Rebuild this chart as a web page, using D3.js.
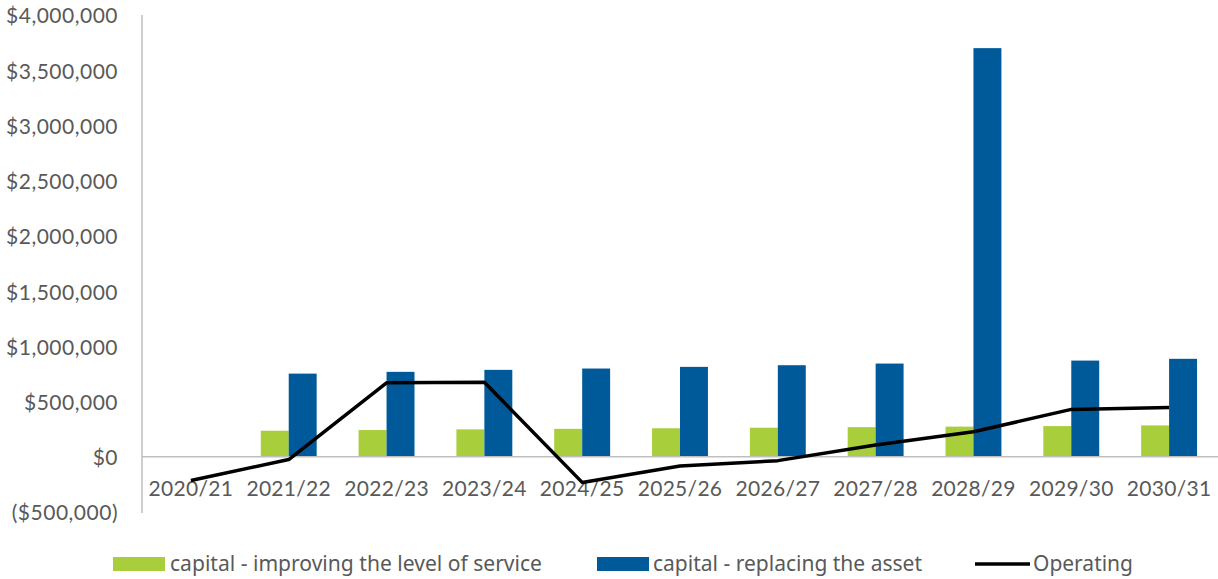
<!DOCTYPE html>
<html>
<head>
<meta charset="utf-8">
<script src="https://cdn.jsdelivr.net/npm/d3@7"></script>
<style>
  html, body { margin: 0; padding: 0; background: #fff; }
  svg { display: block; }
</style>
</head>
<body>
<svg id="chart" width="1218" height="579"></svg>
<script>
// Financial years
const years = ["2020/21", "2021/22", "2022/23", "2023/24", "2024/25", "2025/26",
               "2026/27", "2027/28", "2028/29", "2029/30", "2030/31"];

// Capital spend – improving the level of service
const improving = [0, 236000, 242000, 248000, 253000, 258000, 263000, 268000, 273000, 278000, 284000];

// Capital spend – replacing the asset
const replacing = [0, 753000, 769000, 787000, 799000, 814000, 829000, 844000, 3700000, 871000, 887000];

// Operating cost (line)
const operating = [-215000, -25000, 670000, 674000, -232000, -84000, -35000, 106000, 226000, 429000, 447000];

// Value axis ticks
const yTicks = [-500000, 0, 500000, 1000000, 1500000, 2000000, 2500000, 3000000, 3500000, 4000000];

const seriesNames = ["capital - improving the level of service", "capital - replacing the asset", "Operating"];
const colours = { improving: "#A8CE3B", replacing: "#005A9A", operating: "#000000" };

const svg = d3.select("#chart");
const plot = { left: 142, right: 1218, top: 15, bottom: 512 };

const x = d3.scaleBand().domain(years).range([plot.left, plot.right]).paddingInner(0).paddingOuter(0);
const inner = d3.scaleBand().domain(["improving", "replacing"])
  .range([0, x.bandwidth()]).paddingInner(0).paddingOuter(0.75);
const y = d3.scaleLinear().domain([-500000, 4000000]).range([plot.bottom, plot.top]);

const fmt = v => v < 0 ? "($" + d3.format(",")(-v) + ")" : "$" + d3.format(",")(v);

// Value axis labels
const yAxis = d3.axisLeft(y).tickValues(yTicks).tickFormat(fmt).tickSize(0).tickPadding(0);
const yG = svg.append("g").attr("transform", `translate(118,0)`).call(yAxis);
yG.select(".domain").remove();
yG.selectAll("text")
  .attr("fill", "#595959")
  .style("font-family", "Lato, 'Open Sans', sans-serif")
  .style("font-size", "21px")
  .style("letter-spacing", "0.5px")
  .attr("dy", "0.38em");

// Vertical axis line
svg.append("line")
  .attr("x1", plot.left).attr("x2", plot.left)
  .attr("y1", plot.top).attr("y2", plot.bottom + 1)
  .attr("stroke", "#BFBFBF").attr("stroke-width", 1.5);

// Bars
const barData = years.flatMap((yr, i) => [
  { year: yr, key: "improving", value: improving[i] },
  { year: yr, key: "replacing", value: replacing[i] }
]);
svg.append("g").selectAll("rect").data(barData.filter(d => d.value !== 0)).join("rect")
  .attr("x", d => x(d.year) + inner(d.key))
  .attr("width", inner.bandwidth())
  .attr("y", d => y(Math.max(0, d.value)))
  .attr("height", d => Math.abs(y(d.value) - y(0)))
  .attr("fill", d => colours[d.key]);

// Zero line
svg.append("line")
  .attr("x1", plot.left).attr("x2", plot.right)
  .attr("y1", y(0)).attr("y2", y(0))
  .attr("stroke", "#BFBFBF").attr("stroke-width", 1.5);

// Category labels
const xAxis = d3.axisBottom(x).tickSize(0).tickPadding(0);
const xG = svg.append("g").attr("transform", `translate(0,${y(0)})`).call(xAxis);
xG.select(".domain").remove();
xG.selectAll("text")
  .attr("fill", "#595959")
  .attr("y", 39)
  .attr("dy", 0)
  .style("font-family", "Lato, 'Open Sans', sans-serif")
  .style("font-size", "21px")
  .style("letter-spacing", "0.3px");

// Operating line
const line = d3.line().x((d, i) => x(years[i]) + x.bandwidth() / 2).y(d => y(d));
svg.append("path").datum(operating)
  .attr("d", line)
  .attr("fill", "none")
  .attr("stroke", colours.operating)
  .attr("stroke-width", 3.5)
  .attr("stroke-linejoin", "round");

// Legend
const legend = svg.append("g").style("font-family", "'Noto Sans', sans-serif").style("font-size", "22px");
const legendItems = [
  { name: seriesNames[0], type: "rect", colour: colours.improving, x: 113, textX: 170, textW: 372 },
  { name: seriesNames[1], type: "rect", colour: colours.replacing, x: 597, textX: 653, textW: 269 },
  { name: seriesNames[2], type: "line", colour: colours.operating, x: 975, textX: 1033, textW: 100 }
];
legendItems.forEach(it => {
  if (it.type === "rect") {
    legend.append("rect").attr("x", it.x).attr("y", 557).attr("width", 52).attr("height", 14).attr("fill", it.colour);
  } else {
    legend.append("line").attr("x1", it.x).attr("x2", it.x + 55).attr("y1", 564).attr("y2", 564)
      .attr("stroke", it.colour).attr("stroke-width", 3.5);
  }
  legend.append("text")
    .attr("x", it.textX).attr("y", 571)
    .attr("fill", "#595959")
    .attr("textLength", it.textW)
    .attr("lengthAdjust", "spacingAndGlyphs")
    .text(it.name);
});
</script>
</body>
</html>
